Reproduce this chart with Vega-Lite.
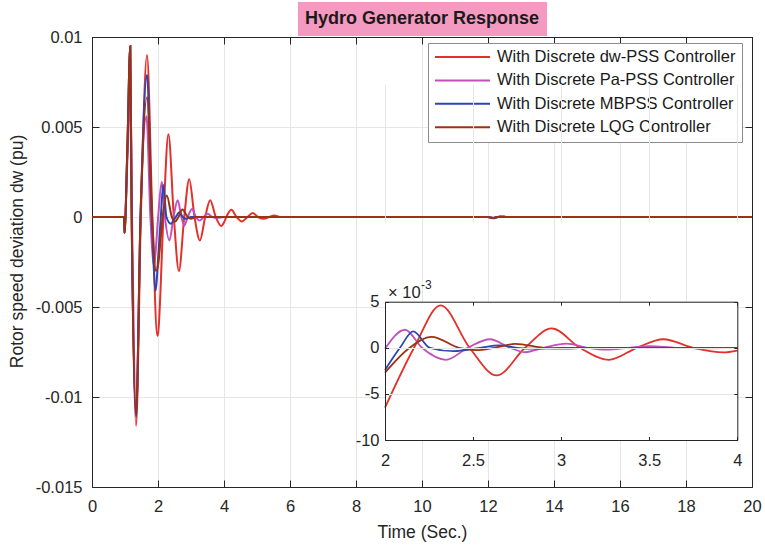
{
  "$schema": "https://vega.github.io/schema/vega-lite/v6.json",
  "width": 660,
  "height": 450,
  "autosize": "none",
  "padding": {"left": 92, "top": 37, "right": 13, "bottom": 62},
  "background": "white",
  "config": {
    "view": {"stroke": null},
    "axis": {"labelFont": "Liberation Sans", "labelFontSize": 16.5, "labelColor": "#262626", "titleFont": "Liberation Sans", "titleFontSize": 17.5, "titleFontWeight": "normal", "titleColor": "#262626", "domainColor": "#262626", "domainWidth": 1, "tickColor": "#262626", "tickWidth": 1, "gridColor": "#e6e6e6", "gridWidth": 1, "gridOpacity": 1, "labelFlush": false, "labelOverlap": false, "labelBound": false}
  },
  "datasets": {
    "d": [
      {"s": "With Discrete dw-PSS Controller", "t": 0, "v": 0},
      {"s": "With Discrete dw-PSS Controller", "t": 0.975, "v": 0},
      {"s": "With Discrete dw-PSS Controller", "t": 0.985, "v": -0.0009},
      {"s": "With Discrete dw-PSS Controller", "t": 1.07, "v": 0.0037},
      {"s": "With Discrete dw-PSS Controller", "t": 1.16, "v": 0.0095},
      {"s": "With Discrete dw-PSS Controller", "t": 1.2, "v": 0.0005},
      {"s": "With Discrete dw-PSS Controller", "t": 1.335, "v": -0.0116},
      {"s": "With Discrete dw-PSS Controller", "t": 1.48, "v": 0},
      {"s": "With Discrete dw-PSS Controller", "t": 1.667, "v": 0.009},
      {"s": "With Discrete dw-PSS Controller", "t": 1.83, "v": 0},
      {"s": "With Discrete dw-PSS Controller", "t": 1.98, "v": -0.0066},
      {"s": "With Discrete dw-PSS Controller", "t": 2, "v": -0.0065},
      {"s": "With Discrete dw-PSS Controller", "t": 2.165, "v": 0},
      {"s": "With Discrete dw-PSS Controller", "t": 2.316, "v": 0.0046},
      {"s": "With Discrete dw-PSS Controller", "t": 2.48, "v": 0},
      {"s": "With Discrete dw-PSS Controller", "t": 2.634, "v": -0.003},
      {"s": "With Discrete dw-PSS Controller", "t": 2.795, "v": 0},
      {"s": "With Discrete dw-PSS Controller", "t": 2.946, "v": 0.0021},
      {"s": "With Discrete dw-PSS Controller", "t": 3.107, "v": 0},
      {"s": "With Discrete dw-PSS Controller", "t": 3.27, "v": -0.0013},
      {"s": "With Discrete dw-PSS Controller", "t": 3.43, "v": 0},
      {"s": "With Discrete dw-PSS Controller", "t": 3.58, "v": 0.00093},
      {"s": "With Discrete dw-PSS Controller", "t": 3.75, "v": 0},
      {"s": "With Discrete dw-PSS Controller", "t": 3.92, "v": -0.0005},
      {"s": "With Discrete dw-PSS Controller", "t": 4, "v": -0.0003},
      {"s": "With Discrete dw-PSS Controller", "t": 4.07, "v": 0},
      {"s": "With Discrete dw-PSS Controller", "t": 4.22, "v": 0.0004},
      {"s": "With Discrete dw-PSS Controller", "t": 4.38, "v": 0},
      {"s": "With Discrete dw-PSS Controller", "t": 4.54, "v": -0.00025},
      {"s": "With Discrete dw-PSS Controller", "t": 4.71, "v": 0},
      {"s": "With Discrete dw-PSS Controller", "t": 4.87, "v": 0.00022},
      {"s": "With Discrete dw-PSS Controller", "t": 5.03, "v": 0},
      {"s": "With Discrete dw-PSS Controller", "t": 5.2, "v": -0.0001},
      {"s": "With Discrete dw-PSS Controller", "t": 5.37, "v": 0},
      {"s": "With Discrete dw-PSS Controller", "t": 5.52, "v": 0.00008},
      {"s": "With Discrete dw-PSS Controller", "t": 5.7, "v": 0},
      {"s": "With Discrete dw-PSS Controller", "t": 6, "v": 0},
      {"s": "With Discrete dw-PSS Controller", "t": 12, "v": 0},
      {"s": "With Discrete dw-PSS Controller", "t": 12.15, "v": -0.00007},
      {"s": "With Discrete dw-PSS Controller", "t": 12.35, "v": 0.00002},
      {"s": "With Discrete dw-PSS Controller", "t": 12.6, "v": 0},
      {"s": "With Discrete dw-PSS Controller", "t": 20, "v": 0},

      {"s": "With Discrete Pa-PSS Controller", "t": 0, "v": 0},
      {"s": "With Discrete Pa-PSS Controller", "t": 0.975, "v": 0},
      {"s": "With Discrete Pa-PSS Controller", "t": 0.985, "v": -0.0009},
      {"s": "With Discrete Pa-PSS Controller", "t": 1.07, "v": 0.003},
      {"s": "With Discrete Pa-PSS Controller", "t": 1.16, "v": 0.0066},
      {"s": "With Discrete Pa-PSS Controller", "t": 1.21, "v": 0.0003},
      {"s": "With Discrete Pa-PSS Controller", "t": 1.335, "v": -0.011},
      {"s": "With Discrete Pa-PSS Controller", "t": 1.47, "v": 0},
      {"s": "With Discrete Pa-PSS Controller", "t": 1.65, "v": 0.0056},
      {"s": "With Discrete Pa-PSS Controller", "t": 1.77, "v": 0},
      {"s": "With Discrete Pa-PSS Controller", "t": 1.88, "v": -0.0027},
      {"s": "With Discrete Pa-PSS Controller", "t": 2, "v": -0.0001},
      {"s": "With Discrete Pa-PSS Controller", "t": 2.114, "v": 0.00196},
      {"s": "With Discrete Pa-PSS Controller", "t": 2.21, "v": 0},
      {"s": "With Discrete Pa-PSS Controller", "t": 2.346, "v": -0.0013},
      {"s": "With Discrete Pa-PSS Controller", "t": 2.47, "v": 0},
      {"s": "With Discrete Pa-PSS Controller", "t": 2.596, "v": 0.00093},
      {"s": "With Discrete Pa-PSS Controller", "t": 2.71, "v": 0},
      {"s": "With Discrete Pa-PSS Controller", "t": 2.795, "v": -0.00048},
      {"s": "With Discrete Pa-PSS Controller", "t": 2.9, "v": 0},
      {"s": "With Discrete Pa-PSS Controller", "t": 3.03, "v": 0.00045},
      {"s": "With Discrete Pa-PSS Controller", "t": 3.15, "v": 0},
      {"s": "With Discrete Pa-PSS Controller", "t": 3.26, "v": -0.0002},
      {"s": "With Discrete Pa-PSS Controller", "t": 3.38, "v": 0},
      {"s": "With Discrete Pa-PSS Controller", "t": 3.5, "v": 0.00018},
      {"s": "With Discrete Pa-PSS Controller", "t": 3.65, "v": 0},
      {"s": "With Discrete Pa-PSS Controller", "t": 3.8, "v": -0.00005},
      {"s": "With Discrete Pa-PSS Controller", "t": 4, "v": 0},
      {"s": "With Discrete Pa-PSS Controller", "t": 6, "v": 0},
      {"s": "With Discrete Pa-PSS Controller", "t": 12, "v": 0},
      {"s": "With Discrete Pa-PSS Controller", "t": 12.15, "v": -0.00005},
      {"s": "With Discrete Pa-PSS Controller", "t": 12.35, "v": 0.00002},
      {"s": "With Discrete Pa-PSS Controller", "t": 12.6, "v": 0},
      {"s": "With Discrete Pa-PSS Controller", "t": 20, "v": 0},

      {"s": "With Discrete MBPSS Controller", "t": 0, "v": 0},
      {"s": "With Discrete MBPSS Controller", "t": 0.975, "v": 0},
      {"s": "With Discrete MBPSS Controller", "t": 0.985, "v": -0.0009},
      {"s": "With Discrete MBPSS Controller", "t": 1.07, "v": 0.0037},
      {"s": "With Discrete MBPSS Controller", "t": 1.16, "v": 0.0095},
      {"s": "With Discrete MBPSS Controller", "t": 1.2, "v": 0.0005},
      {"s": "With Discrete MBPSS Controller", "t": 1.335, "v": -0.0111},
      {"s": "With Discrete MBPSS Controller", "t": 1.47, "v": 0},
      {"s": "With Discrete MBPSS Controller", "t": 1.667, "v": 0.0079},
      {"s": "With Discrete MBPSS Controller", "t": 1.81, "v": 0},
      {"s": "With Discrete MBPSS Controller", "t": 1.93, "v": -0.0041},
      {"s": "With Discrete MBPSS Controller", "t": 2, "v": -0.0024},
      {"s": "With Discrete MBPSS Controller", "t": 2.085, "v": 0},
      {"s": "With Discrete MBPSS Controller", "t": 2.16, "v": 0.00178},
      {"s": "With Discrete MBPSS Controller", "t": 2.255, "v": 0},
      {"s": "With Discrete MBPSS Controller", "t": 2.39, "v": -0.00037},
      {"s": "With Discrete MBPSS Controller", "t": 2.54, "v": 0},
      {"s": "With Discrete MBPSS Controller", "t": 2.65, "v": 0.00026},
      {"s": "With Discrete MBPSS Controller", "t": 2.75, "v": 0},
      {"s": "With Discrete MBPSS Controller", "t": 2.85, "v": -0.0001},
      {"s": "With Discrete MBPSS Controller", "t": 3, "v": 0},
      {"s": "With Discrete MBPSS Controller", "t": 4, "v": 0},
      {"s": "With Discrete MBPSS Controller", "t": 6, "v": 0},
      {"s": "With Discrete MBPSS Controller", "t": 12, "v": 0},
      {"s": "With Discrete MBPSS Controller", "t": 12.15, "v": -0.00005},
      {"s": "With Discrete MBPSS Controller", "t": 12.35, "v": 0.00002},
      {"s": "With Discrete MBPSS Controller", "t": 12.6, "v": 0},
      {"s": "With Discrete MBPSS Controller", "t": 20, "v": 0},

      {"s": "With Discrete LQG Controller", "t": 0, "v": 0},
      {"s": "With Discrete LQG Controller", "t": 0.975, "v": 0},
      {"s": "With Discrete LQG Controller", "t": 0.985, "v": -0.0009},
      {"s": "With Discrete LQG Controller", "t": 1.07, "v": 0.0037},
      {"s": "With Discrete LQG Controller", "t": 1.16, "v": 0.0095},
      {"s": "With Discrete LQG Controller", "t": 1.2, "v": 0.0005},
      {"s": "With Discrete LQG Controller", "t": 1.335, "v": -0.0109},
      {"s": "With Discrete LQG Controller", "t": 1.47, "v": 0},
      {"s": "With Discrete LQG Controller", "t": 1.667, "v": 0.00665},
      {"s": "With Discrete LQG Controller", "t": 1.82, "v": 0},
      {"s": "With Discrete LQG Controller", "t": 1.94, "v": -0.003},
      {"s": "With Discrete LQG Controller", "t": 2, "v": -0.0027},
      {"s": "With Discrete LQG Controller", "t": 2.14, "v": 0},
      {"s": "With Discrete LQG Controller", "t": 2.265, "v": 0.00119},
      {"s": "With Discrete LQG Controller", "t": 2.42, "v": 0},
      {"s": "With Discrete LQG Controller", "t": 2.52, "v": -0.00025},
      {"s": "With Discrete LQG Controller", "t": 2.62, "v": 0},
      {"s": "With Discrete LQG Controller", "t": 2.74, "v": 0.00042},
      {"s": "With Discrete LQG Controller", "t": 2.9, "v": 0},
      {"s": "With Discrete LQG Controller", "t": 3, "v": -0.0001},
      {"s": "With Discrete LQG Controller", "t": 3.15, "v": 0},
      {"s": "With Discrete LQG Controller", "t": 4, "v": 0},
      {"s": "With Discrete LQG Controller", "t": 6, "v": 0},
      {"s": "With Discrete LQG Controller", "t": 12, "v": 0},
      {"s": "With Discrete LQG Controller", "t": 12.15, "v": -0.00005},
      {"s": "With Discrete LQG Controller", "t": 12.35, "v": 0.00002},
      {"s": "With Discrete LQG Controller", "t": 12.6, "v": 0},
      {"s": "With Discrete LQG Controller", "t": 20, "v": 0}
    ]
  },
  "data": {"name": "d"},
  "layer": [
    {
      "layer": [
        {
          "data": {"values": [{}]},
          "mark": {"type": "rect", "fill": "#f49ac1"},
          "encoding": {
            "x": {"datum": 6.24, "type": "quantitative", "scale": {"domain": [0, 20], "nice": false, "zero": false},
                  "axis": {"orient": "top", "labels": false, "grid": false, "values": [0, 2, 4, 6, 8, 10, 12, 14, 16, 18, 20], "tickSize": -7, "title": null}},
            "x2": {"datum": 13.79},
            "y": {"datum": 0.01194, "type": "quantitative", "scale": {"domain": [-0.015, 0.01], "nice": false, "zero": false},
                  "axis": {"orient": "right", "labels": false, "grid": false, "values": [-0.015, -0.01, -0.005, 0, 0.005, 0.01], "tickSize": -7, "title": null}},
            "y2": {"datum": 0.01006}
          }
        },
        {
          "data": {"values": [{}]},
          "mark": {"type": "text", "text": "Hydro Generator Response", "align": "center", "baseline": "middle", "font": "Liberation Sans", "fontSize": 18, "fontWeight": "bold", "fill": "#1a1a1a"},
          "encoding": {
            "x": {"datum": 10, "type": "quantitative", "scale": {"domain": [0, 20], "nice": false, "zero": false}, "axis": null},
            "y": {"datum": 0.0110, "type": "quantitative", "scale": {"domain": [-0.015, 0.01], "nice": false, "zero": false}, "axis": null}
          }
        },
        {
          "mark": {"type": "line", "interpolate": "monotone", "strokeWidth": 2},
          "encoding": {
            "x": {"field": "t", "type": "quantitative", "scale": {"domain": [0, 20], "nice": false, "zero": false},
                  "axis": {"orient": "bottom", "values": [0, 2, 4, 6, 8, 10, 12, 14, 16, 18, 20], "tickSize": -7, "labelPadding": 18, "grid": true, "title": "Time (Sec.)", "titleY": 45, "titleBaseline": "middle"}},
            "y": {"field": "v", "type": "quantitative", "scale": {"domain": [-0.015, 0.01], "nice": false, "zero": false},
                  "axis": {"orient": "left", "values": [-0.015, -0.01, -0.005, 0, 0.005, 0.01], "labelExpr": "datum.value + ''", "tickSize": -7, "labelPadding": 17, "grid": true, "title": "Rotor speed deviation dw (pu)", "titleX": -75, "titleY": 214, "titleBaseline": "middle"}},
            "color": {"field": "s", "type": "nominal",
                      "scale": {"domain": ["With Discrete dw-PSS Controller", "With Discrete Pa-PSS Controller", "With Discrete MBPSS Controller", "With Discrete LQG Controller"],
                                "range": ["#e2302a", "#c150bd", "#2e44b0", "#9b3312"]},
                      "legend": {"orient": "none", "legendX": 336, "legendY": 6, "title": null, "symbolType": "stroke", "symbolSize": 3025, "symbolStrokeWidth": 2, "clipHeight": 16, "rowPadding": 6.4, "labelFont": "Liberation Sans", "labelFontSize": 16.5, "labelColor": "#1a1a1a", "labelOffset": 6, "labelLimit": 400, "padding": 6, "strokeColor": "#8c8c8c", "fillColor": "white"}}
          }
        }
      ],
      "resolve": {"axis": {"x": "independent", "y": "independent"}}
    },
    {
      "layer": [
        {
          "data": {"values": [{}]},
          "mark": {"type": "rect", "fill": "white"},
          "encoding": {
            "x": {"datum": 2, "type": "quantitative", "scale": {"domain": [2, 4], "range": [293, 645.3], "nice": false, "zero": false},
                  "axis": {"orient": "top", "offset": -264.7, "labels": false, "grid": false, "values": [2, 2.5, 3, 3.5, 4], "tickSize": -3.5, "title": null, "zindex": 1}},
            "x2": {"datum": 4},
            "y": {"datum": -0.01, "type": "quantitative", "scale": {"domain": [-0.01, 0.005], "range": [403, 264.7], "nice": false, "zero": false},
                  "axis": {"orient": "right", "offset": -14.7, "labels": false, "grid": false, "values": [-0.01, -0.005, 0, 0.005], "tickSize": -3.5, "title": null, "zindex": 1}},
            "y2": {"datum": 0.005}
          }
        },
        {
          "transform": [{"filter": "datum.t >= 2 && datum.t <= 4"}],
          "mark": {"type": "line", "interpolate": "monotone", "strokeWidth": 1.8},
          "encoding": {
            "x": {"field": "t", "type": "quantitative", "scale": {"domain": [2, 4], "range": [293, 645.3], "nice": false, "zero": false},
                  "axis": {"orient": "bottom", "offset": -47, "values": [2, 2.5, 3, 3.5, 4], "format": "~g", "tickSize": -3.5, "labelPadding": 15.5, "grid": true, "title": null, "zindex": 1}},
            "y": {"field": "v", "type": "quantitative", "scale": {"domain": [-0.01, 0.005], "range": [403, 264.7], "nice": false, "zero": false},
                  "axis": {"orient": "left", "offset": -293, "values": [-0.01, -0.005, 0, 0.005], "labelExpr": "round(datum.value * 1000) + ''", "tickSize": -3.5, "labelPadding": 9.5, "grid": true, "title": null, "zindex": 1}},
            "color": {"field": "s", "type": "nominal", "legend": null}
          }
        },
        {
          "data": {"values": [{}]},
          "mark": {"type": "text", "text": "× 10", "align": "left", "baseline": "middle", "dx": 3, "font": "Liberation Sans", "fontSize": 16.5, "fill": "#262626"},
          "encoding": {
            "x": {"datum": 2, "type": "quantitative", "scale": {"domain": [2, 4], "range": [293, 645.3], "nice": false, "zero": false}, "axis": null},
            "y": {"datum": 0.00598, "type": "quantitative", "scale": {"domain": [-0.01, 0.005], "range": [403, 264.7], "nice": false, "zero": false}, "axis": null}
          }
        },
        {
          "data": {"values": [{}]},
          "mark": {"type": "text", "text": "-3", "align": "left", "baseline": "middle", "dx": 36, "dy": -7.5, "font": "Liberation Sans", "fontSize": 12, "fill": "#262626"},
          "encoding": {
            "x": {"datum": 2, "type": "quantitative", "scale": {"domain": [2, 4], "range": [293, 645.3], "nice": false, "zero": false}, "axis": null},
            "y": {"datum": 0.00598, "type": "quantitative", "scale": {"domain": [-0.01, 0.005], "range": [403, 264.7], "nice": false, "zero": false}, "axis": null}
          }
        }
      ],
      "resolve": {"axis": {"x": "independent", "y": "independent"}}
    }
  ],
  "resolve": {"scale": {"x": "independent", "y": "independent"}}
}
